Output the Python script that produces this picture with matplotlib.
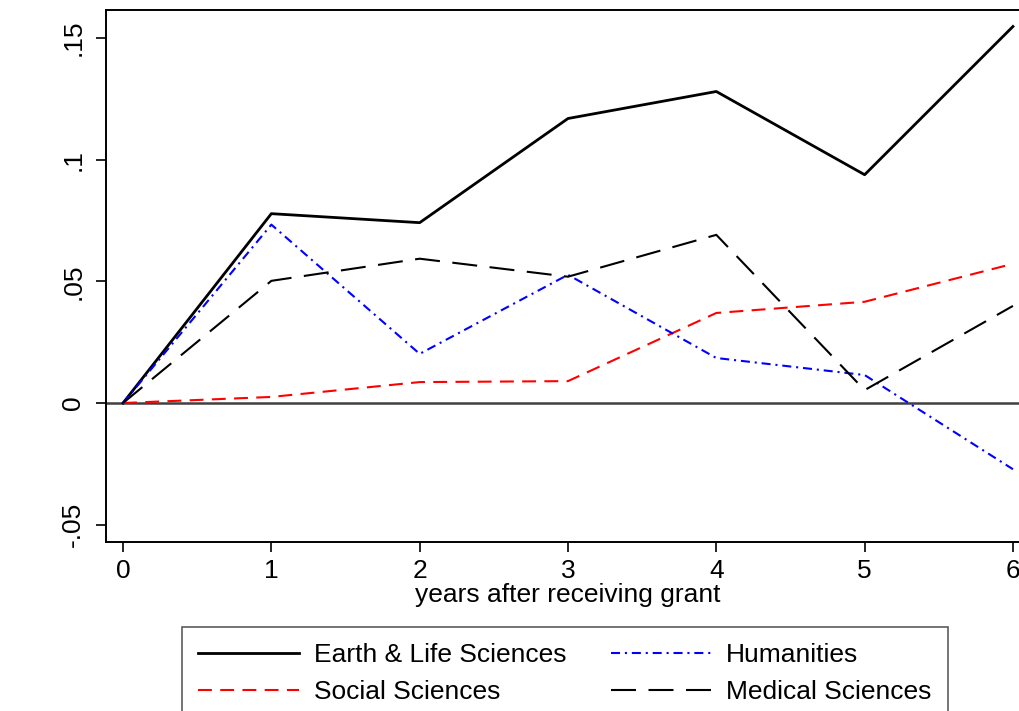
import numpy as np
import matplotlib
matplotlib.use("Agg")
import matplotlib.pyplot as plt

# Effect by years after receiving grant, per discipline
years = [0, 1, 2, 3, 4, 5, 6]
earth_life = [0.0, 0.0778, 0.0741, 0.1169, 0.1280, 0.0938, 0.1547]
social = [0.0, 0.0025, 0.0086, 0.0090, 0.0370, 0.0416, 0.0572]
humanities = [0.0, 0.0733, 0.0202, 0.0527, 0.0185, 0.0115, -0.0272]
medical = [0.0, 0.0502, 0.0593, 0.0519, 0.0691, 0.0053, 0.0399]

yticks = [-0.05, 0, 0.05, 0.1, 0.15]
ytick_labels = ["-.05", "0", ".05", ".1", ".15"]

plt.rcParams["font.family"] = ["Liberation Sans", "DejaVu Sans"]
plt.rcParams["lines.scale_dashes"] = False

fig = plt.figure(figsize=(10.19, 7.11), dpi=100)
ax = fig.add_axes([0.104, 0.2377, 0.9068, 0.7483])

ax.axhline(0, color="#404040", lw=1.8, zorder=1)

l1, = ax.plot(years, earth_life, color="black", lw=2.0, label="Earth & Life Sciences", zorder=3)
l2, = ax.plot(years, social, color="red", lw=1.5, dashes=(10, 6), label="Social Sciences", zorder=3)
l3, = ax.plot(years, humanities, color="blue", lw=1.5, dashes=(6.5, 3.5, 1.5, 3.5), label="Humanities", zorder=3)
l4, = ax.plot(years, medical, color="black", lw=1.5, dashes=(18, 9), label="Medical Sciences", zorder=3)

ax.set_xlim(-0.115, 6.115)
ax.set_ylim(-0.0571, 0.1615)
ax.set_xticks(years)
ax.set_yticks(yticks)
ax.set_yticklabels(ytick_labels, rotation=90, va="center")
ax.tick_params(axis="both", direction="out", length=7, width=1.2, labelsize=19)
ax.tick_params(axis="y", pad=8)
ax.tick_params(axis="x", pad=5)
for s in ax.spines.values():
    s.set_linewidth(1.4)
ax.spines["right"].set_visible(False)

ax.set_xlabel("years after receiving grant", fontsize=19, labelpad=0)

# two columns: Earth/Social on the left, Humanities/Medical on the right
leg = fig.legend(handles=[l1, l2, l3, l4], loc="upper left",
                 bbox_to_anchor=(182 / 1019, 1 - 627 / 711),
                 ncol=2, fontsize=19, frameon=True, fancybox=False,
                 handlelength=3.8, handletextpad=0.57, columnspacing=1.7,
                 labelspacing=0.47, borderpad=0.62, borderaxespad=0)
leg.get_frame().set_edgecolor("#333333")
leg.get_frame().set_linewidth(1.2)

fig.savefig("out.png", dpi=100)
